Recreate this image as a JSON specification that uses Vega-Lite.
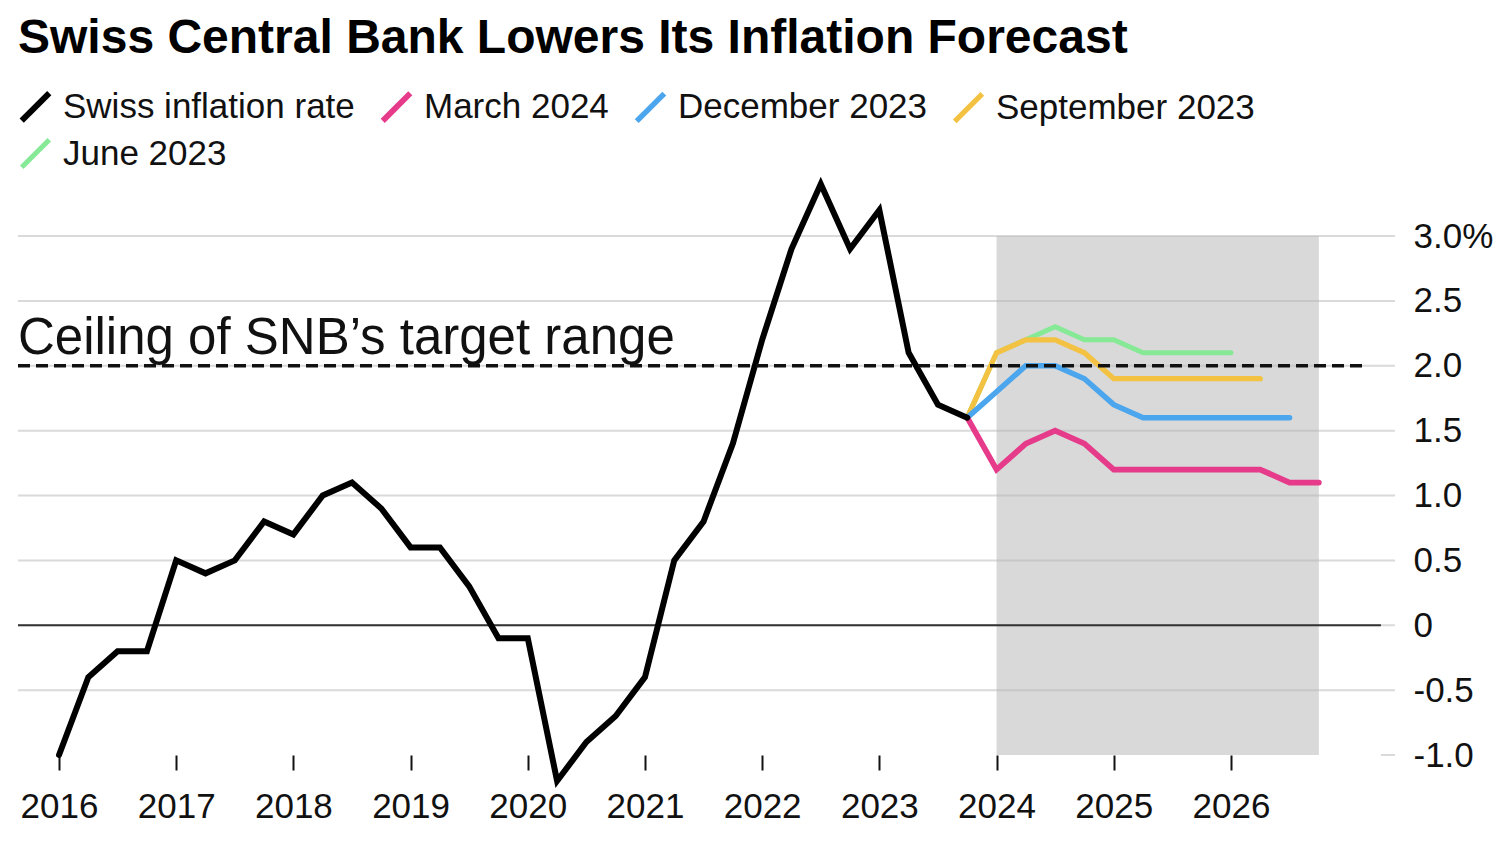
{
  "$schema": "https://vega.github.io/schema/vega-lite/v6.json",
  "width": 1377,
  "height": 519,
  "autosize": {"type": "none"},
  "padding": {"left": 18, "top": 236, "right": 105, "bottom": 95},
  "background": "white",
  "title": {
    "text": "Swiss Central Bank Lowers Its Inflation Forecast",
    "anchor": "start",
    "frame": "group",
    "fontSize": 48,
    "fontWeight": "bold",
    "font": "Liberation Sans",
    "color": "#000000",
    "offset": 26
  },
  "config": {"view": {"stroke": null}, "font": "Liberation Sans"},
  "resolve": {"axis": {"x": "independent", "y": "independent"}},
  "layer": [
    {
      "data": {"values": [{"start": 2024, "end": 2026.75, "low": -1, "high": 3}]},
      "mark": {"type": "rect", "color": "#d9d9d9"},
      "encoding": {
        "x": {"field": "start", "type": "quantitative", "axis": null, "scale": {"domain": [2015.65, 2027.4], "nice": false, "zero": false}},
        "x2": {"field": "end"},
        "y": {"field": "low", "type": "quantitative", "axis": null, "scale": {"domain": [-1, 3], "nice": false, "zero": false}},
        "y2": {"field": "high"}
      }
    },
    {
      "data": {"values": [{"v": -0.5}, {"v": 0}, {"v": 0.5}, {"v": 1}, {"v": 1.5}, {"v": 2}, {"v": 2.5}, {"v": 3}]},
      "mark": {"type": "rule", "color": "#b5b5b5", "opacity": 0.5, "strokeWidth": 2},
      "encoding": {
        "y": {"field": "v", "type": "quantitative", "axis": null, "scale": {"domain": [-1, 3], "nice": false, "zero": false}}
      }
    },
    {
      "data": {"values": [{}]},
      "mark": {"type": "rule", "color": "#b5b5b5", "opacity": 0.5, "strokeWidth": 2},
      "encoding": {
        "x": {"datum": 2027.28, "type": "quantitative", "axis": null, "scale": {"domain": [2015.65, 2027.4], "nice": false, "zero": false}},
        "x2": {"datum": 2027.4},
        "y": {"datum": -1, "type": "quantitative", "axis": null, "scale": {"domain": [-1, 3], "nice": false, "zero": false}}
      }
    },
    {
      "data": {"values": [{}]},
      "mark": {"type": "rule", "color": "#333333", "strokeWidth": 2},
      "encoding": {
        "x": {"datum": 2015.65, "type": "quantitative", "axis": null, "scale": {"domain": [2015.65, 2027.4], "nice": false, "zero": false}},
        "x2": {"datum": 2027.28},
        "y": {"datum": 0, "type": "quantitative", "axis": null, "scale": {"domain": [-1, 3], "nice": false, "zero": false}}
      }
    },
    {
      "data": {
        "values": [
          {"series": "June 2023", "date": 2023.75, "value": 1.6},
          {"series": "June 2023", "date": 2024.0, "value": 2.1},
          {"series": "June 2023", "date": 2024.25, "value": 2.2},
          {"series": "June 2023", "date": 2024.5, "value": 2.3},
          {"series": "June 2023", "date": 2024.75, "value": 2.2},
          {"series": "June 2023", "date": 2025.0, "value": 2.2},
          {"series": "June 2023", "date": 2025.25, "value": 2.1},
          {"series": "June 2023", "date": 2025.5, "value": 2.1},
          {"series": "June 2023", "date": 2025.75, "value": 2.1},
          {"series": "June 2023", "date": 2026.0, "value": 2.1},
          {"series": "September 2023", "date": 2023.75, "value": 1.6},
          {"series": "September 2023", "date": 2024.0, "value": 2.1},
          {"series": "September 2023", "date": 2024.25, "value": 2.2},
          {"series": "September 2023", "date": 2024.5, "value": 2.2},
          {"series": "September 2023", "date": 2024.75, "value": 2.1},
          {"series": "September 2023", "date": 2025.0, "value": 1.9},
          {"series": "September 2023", "date": 2025.25, "value": 1.9},
          {"series": "September 2023", "date": 2025.5, "value": 1.9},
          {"series": "September 2023", "date": 2025.75, "value": 1.9},
          {"series": "September 2023", "date": 2026.0, "value": 1.9},
          {"series": "September 2023", "date": 2026.25, "value": 1.9},
          {"series": "December 2023", "date": 2023.75, "value": 1.6},
          {"series": "December 2023", "date": 2024.0, "value": 1.8},
          {"series": "December 2023", "date": 2024.25, "value": 2.0},
          {"series": "December 2023", "date": 2024.5, "value": 2.0},
          {"series": "December 2023", "date": 2024.75, "value": 1.9},
          {"series": "December 2023", "date": 2025.0, "value": 1.7},
          {"series": "December 2023", "date": 2025.25, "value": 1.6},
          {"series": "December 2023", "date": 2025.5, "value": 1.6},
          {"series": "December 2023", "date": 2025.75, "value": 1.6},
          {"series": "December 2023", "date": 2026.0, "value": 1.6},
          {"series": "December 2023", "date": 2026.25, "value": 1.6},
          {"series": "December 2023", "date": 2026.5, "value": 1.6},
          {"series": "March 2024", "date": 2023.75, "value": 1.6},
          {"series": "March 2024", "date": 2024.0, "value": 1.2},
          {"series": "March 2024", "date": 2024.25, "value": 1.4},
          {"series": "March 2024", "date": 2024.5, "value": 1.5},
          {"series": "March 2024", "date": 2024.75, "value": 1.4},
          {"series": "March 2024", "date": 2025.0, "value": 1.2},
          {"series": "March 2024", "date": 2025.25, "value": 1.2},
          {"series": "March 2024", "date": 2025.5, "value": 1.2},
          {"series": "March 2024", "date": 2025.75, "value": 1.2},
          {"series": "March 2024", "date": 2026.0, "value": 1.2},
          {"series": "March 2024", "date": 2026.25, "value": 1.2},
          {"series": "March 2024", "date": 2026.5, "value": 1.1},
          {"series": "March 2024", "date": 2026.75, "value": 1.1},
          {"series": "Swiss inflation rate", "date": 2016.0, "value": -1.0},
          {"series": "Swiss inflation rate", "date": 2016.25, "value": -0.4},
          {"series": "Swiss inflation rate", "date": 2016.5, "value": -0.2},
          {"series": "Swiss inflation rate", "date": 2016.75, "value": -0.2},
          {"series": "Swiss inflation rate", "date": 2017.0, "value": 0.5},
          {"series": "Swiss inflation rate", "date": 2017.25, "value": 0.4},
          {"series": "Swiss inflation rate", "date": 2017.5, "value": 0.5},
          {"series": "Swiss inflation rate", "date": 2017.75, "value": 0.8},
          {"series": "Swiss inflation rate", "date": 2018.0, "value": 0.7},
          {"series": "Swiss inflation rate", "date": 2018.25, "value": 1.0},
          {"series": "Swiss inflation rate", "date": 2018.5, "value": 1.1},
          {"series": "Swiss inflation rate", "date": 2018.75, "value": 0.9},
          {"series": "Swiss inflation rate", "date": 2019.0, "value": 0.6},
          {"series": "Swiss inflation rate", "date": 2019.25, "value": 0.6},
          {"series": "Swiss inflation rate", "date": 2019.5, "value": 0.3},
          {"series": "Swiss inflation rate", "date": 2019.75, "value": -0.1},
          {"series": "Swiss inflation rate", "date": 2020.0, "value": -0.1},
          {"series": "Swiss inflation rate", "date": 2020.25, "value": -1.2},
          {"series": "Swiss inflation rate", "date": 2020.5, "value": -0.9},
          {"series": "Swiss inflation rate", "date": 2020.75, "value": -0.7},
          {"series": "Swiss inflation rate", "date": 2021.0, "value": -0.4},
          {"series": "Swiss inflation rate", "date": 2021.25, "value": 0.5},
          {"series": "Swiss inflation rate", "date": 2021.5, "value": 0.8},
          {"series": "Swiss inflation rate", "date": 2021.75, "value": 1.4},
          {"series": "Swiss inflation rate", "date": 2022.0, "value": 2.2},
          {"series": "Swiss inflation rate", "date": 2022.25, "value": 2.9},
          {"series": "Swiss inflation rate", "date": 2022.5, "value": 3.4},
          {"series": "Swiss inflation rate", "date": 2022.75, "value": 2.9},
          {"series": "Swiss inflation rate", "date": 2023.0, "value": 3.2},
          {"series": "Swiss inflation rate", "date": 2023.25, "value": 2.1},
          {"series": "Swiss inflation rate", "date": 2023.5, "value": 1.7},
          {"series": "Swiss inflation rate", "date": 2023.75, "value": 1.6}
        ]
      },
      "mark": {"type": "line", "strokeCap": "round"},
      "encoding": {
        "x": {
          "field": "date",
          "type": "quantitative",
          "scale": {"domain": [2015.65, 2027.4], "nice": false, "zero": false},
          "axis": {
            "title": null,
            "values": [2016, 2017, 2018, 2019, 2020, 2021, 2022, 2023, 2024, 2025, 2026],
            "format": "d",
            "grid": false,
            "domain": false,
            "ticks": true,
            "tickSize": 15,
            "tickWidth": 2,
            "tickColor": "#111111",
            "labelFontSize": 35,
            "labelFont": "Liberation Sans",
            "labelColor": "#111111",
            "labelPadding": 19,
            "labelFlush": false,
            "labelOverlap": false
          }
        },
        "y": {
          "field": "value",
          "type": "quantitative",
          "scale": {"domain": [-1, 3], "nice": false, "zero": false},
          "axis": {
            "title": null,
            "orient": "right",
            "values": [-1, -0.5, 0, 0.5, 1, 1.5, 2, 2.5, 3],
            "labelExpr": "datum.value == 3 ? '3.0%' : datum.value == 0 ? '0' : datum.value < 0 ? '-' + format(-datum.value, '.1f') : format(datum.value, '.1f')",
            "grid": false,
            "domain": false,
            "ticks": false,
            "labelPadding": 18,
            "labelFontSize": 35,
            "labelFont": "Liberation Sans",
            "labelColor": "#111111",
            "labelFlush": false,
            "labelOverlap": false
          }
        },
        "strokeWidth": {
          "field": "series",
          "type": "nominal",
          "scale": {
            "domain": ["Swiss inflation rate", "March 2024", "December 2023", "September 2023", "June 2023"],
            "range": [6, 5, 5, 5, 5]
          },
          "legend": null
        },
        "color": {
          "field": "series",
          "type": "nominal",
          "scale": {
            "domain": ["Swiss inflation rate", "March 2024", "December 2023", "September 2023", "June 2023"],
            "range": ["#000000", "#e63a8a", "#4ba6ee", "#f3c242", "#86e996"]
          },
          "legend": {
            "title": null,
            "orient": "none",
            "legendX": 0,
            "legendY": -147,
            "direction": "horizontal",
            "columns": 4,
            "padding": 0,
            "symbolType": "M-1,1L1,-1",
            "symbolSize": 760,
            "symbolStrokeWidth": 6,
            "symbolOffset": 0,
            "labelFontSize": 35,
            "labelFont": "Liberation Sans",
            "labelColor": "#111111",
            "labelOffset": 10,
            "labelLimit": 500,
            "columnPadding": 16,
            "rowPadding": -4
          }
        }
      }
    },
    {
      "data": {"values": [{}]},
      "mark": {"type": "rule", "color": "#111111", "strokeWidth": 3.5, "strokeDash": [12, 6]},
      "encoding": {
        "x": {"datum": 2015.65, "type": "quantitative", "axis": null, "scale": {"domain": [2015.65, 2027.4], "nice": false, "zero": false}},
        "x2": {"datum": 2027.12},
        "y": {"datum": 2, "type": "quantitative", "axis": null, "scale": {"domain": [-1, 3], "nice": false, "zero": false}}
      }
    },
    {
      "data": {"values": [{"label": "Ceiling of SNB’s target range"}]},
      "mark": {"type": "text", "align": "left", "baseline": "alphabetic", "dy": -12, "fontSize": 51, "font": "Liberation Sans", "color": "#111111"},
      "encoding": {
        "text": {"field": "label"},
        "x": {"datum": 2015.65, "type": "quantitative", "axis": null, "scale": {"domain": [2015.65, 2027.4], "nice": false, "zero": false}},
        "y": {"datum": 2, "type": "quantitative", "axis": null, "scale": {"domain": [-1, 3], "nice": false, "zero": false}}
      }
    }
  ]
}
